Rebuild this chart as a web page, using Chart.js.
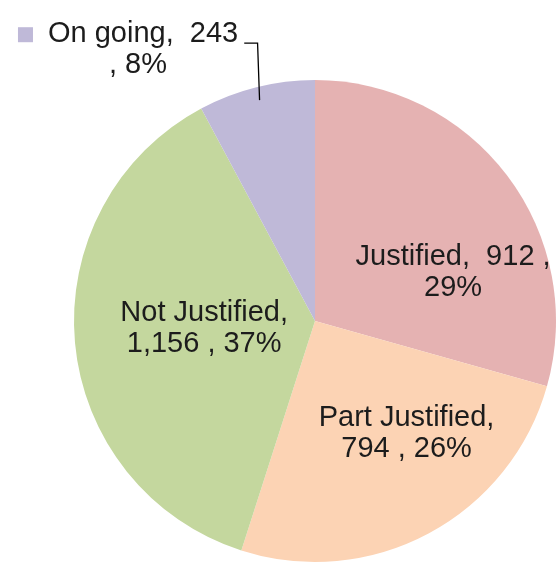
<!DOCTYPE html>
<html>
<head>
<meta charset="utf-8">
<script src="https://cdn.jsdelivr.net/npm/chart.js@4/dist/chart.umd.min.js"></script>
<style>
  html, body { margin: 0; padding: 0; background: #fff; }
  #wrap { width: 559px; height: 565px; position: relative; }
</style>
</head>
<body>
<div id="wrap"><canvas id="c" width="559" height="565"></canvas></div>
<script>
// ---- data ----
const categories = ["Justified", "Part Justified", "Not Justified", "On going"];
const values = [912, 794, 1156, 243];
const colors = ["#E5B2B2", "#FCD3B4", "#C4D79E", "#BFB9D8"];

// label placement (fractions of radius, relative to pie centre)
const labelAnchor = [[0.573, -0.20], [0.38, 0.466], [-0.46, 0.03], null];
const FONT = '29px "Liberation Sans", Arial, sans-serif';
const LINE_H = 31;

function fmt(n) { return n.toLocaleString('en-US'); }

const labelPlugin = {
  id: 'pieLabels',
  afterDatasetsDraw(chart) {
    const ctx = chart.ctx;
    const meta = chart.getDatasetMeta(0);
    const data = chart.data.datasets[0].data;
    const total = data.reduce((a, b) => a + b, 0);
    ctx.save();
    ctx.font = FONT;
    ctx.fillStyle = '#1c1c1c';
    ctx.textBaseline = 'middle';
    meta.data.forEach((arc, i) => {
      const name = chart.data.labels[i];
      const v = data[i];
      const pct = Math.round(v / total * 100) + '%';
      const cx = arc.x, cy = arc.y, r = arc.outerRadius;
      if (labelAnchor[i]) {
        let lines;
        if (i === 0) lines = [name + ',  ' + fmt(v) + ' ,', pct];
        else lines = [name + ',', fmt(v) + ' , ' + pct];
        const lx = cx + labelAnchor[i][0] * r;
        const ly = cy + labelAnchor[i][1] * r;
        ctx.textAlign = 'center';
        lines.forEach((t, k) => {
          ctx.fillText(t, lx, ly + (k - (lines.length - 1) / 2) * LINE_H);
        });
      } else {
        // outside label with legend key and leader line
        const tx = cx - 1.108 * r;
        const ty = cy - 1.19 * r;
        ctx.fillStyle = colors[i];
        ctx.fillRect(tx - 30, ty - 7, 15, 15);
        ctx.fillStyle = '#1c1c1c';
        ctx.textAlign = 'left';
        const l1 = name + ',  ' + fmt(v);
        ctx.fillText(l1, tx, ty);
        ctx.textAlign = 'center';
        ctx.fillText(', ' + pct, tx + 90, ty + 31);
        const w = ctx.measureText(l1).width;
        const mid = (arc.startAngle + arc.endAngle) / 2;
        const ex = cx + Math.cos(mid) * r * 0.945;
        const ey = cy + Math.sin(mid) * r * 0.945;
        ctx.strokeStyle = '#000';
        ctx.lineWidth = 1.3;
        ctx.beginPath();
        ctx.moveTo(tx + w + 6, ty + 9);
        ctx.lineTo(ex - 2, ty + 9);
        ctx.lineTo(ex, ey);
        ctx.stroke();
      }
    });
    ctx.restore();
  }
};

new Chart(document.getElementById('c'), {
  type: 'pie',
  data: {
    labels: categories,
    datasets: [{
      data: values,
      backgroundColor: colors,
      borderWidth: 0
    }]
  },
  options: {
    responsive: false,
    animation: false,
    layout: { padding: { left: 74, right: 3, top: 80, bottom: 3 } },
    plugins: { legend: { display: false }, tooltip: { enabled: false } }
  },
  plugins: [labelPlugin]
});
</script>
</body>
</html>
